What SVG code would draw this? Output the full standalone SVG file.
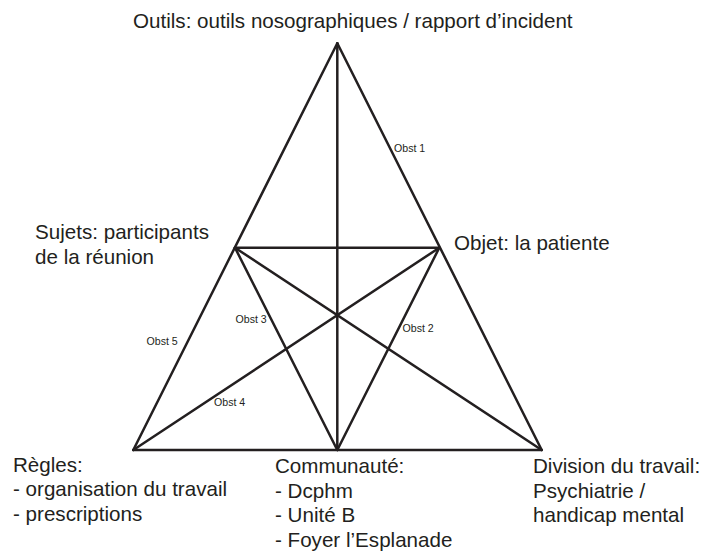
<svg xmlns="http://www.w3.org/2000/svg" width="704" height="557" viewBox="0 0 704 557">
<style>
.bg{fill:#ffffff}
.ln{stroke:#231f20;stroke-width:2.5;fill:none;stroke-linecap:round;stroke-linejoin:miter}
.lbl{font-family:"Liberation Sans",Arial,sans-serif;font-size:20.6px;fill:#231f20}
.obst{font-family:"Liberation Sans",Arial,sans-serif;font-size:10.6px;fill:#231f20}
</style>
<rect class="bg" x="0" y="0" width="704" height="557"/>
<g id="connectors">
<line class="ln" x1="337.3" y1="43.3" x2="133.3" y2="450"/>
<line class="ln" x1="337.3" y1="43.3" x2="541.7" y2="450"/>
<line class="ln" x1="133.3" y1="450" x2="541.7" y2="450"/>
<line class="ln" x1="337.3" y1="43.3" x2="337.3" y2="450"/>
<line class="ln" x1="235" y1="247.7" x2="439.3" y2="247.7"/>
<line class="ln" x1="235" y1="247.7" x2="541.7" y2="450"/>
<line class="ln" x1="439.3" y1="247.7" x2="133.3" y2="450"/>
<line class="ln" x1="235" y1="247.7" x2="337.3" y2="450"/>
<line class="ln" x1="439.3" y1="247.7" x2="337.3" y2="450"/>
</g>
<g id="obstacles">
<text class="obst" x="394" y="152">Obst 1</text>
<text class="obst" x="402.5" y="331.5">Obst 2</text>
<text class="obst" x="235.5" y="323">Obst 3</text>
<text class="obst" x="214" y="406">Obst 4</text>
<text class="obst" x="146.5" y="345">Obst 5</text>
</g>
<g id="outils">
<text class="lbl" x="133" y="28">Outils: outils nosographiques / rapport d’incident</text>
</g>
<g id="sujets">
<text class="lbl" x="35" y="239">Sujets: participants</text>
<text class="lbl" x="35" y="263.5">de la réunion</text>
</g>
<g id="objet">
<text class="lbl" x="454" y="250">Objet: la patiente</text>
</g>
<g id="regles">
<text class="lbl" x="13" y="471.5">Règles:</text>
<text class="lbl" x="13" y="496">- organisation du travail</text>
<text class="lbl" x="13" y="520.5">- prescriptions</text>
</g>
<g id="communaute">
<text class="lbl" x="275" y="473">Communauté:</text>
<text class="lbl" x="275" y="497.5">- Dcphm</text>
<text class="lbl" x="275" y="522">- Unité B</text>
<text class="lbl" x="275" y="546.5">- Foyer l’Esplanade</text>
</g>
<g id="division">
<text class="lbl" x="533" y="473">Division du travail:</text>
<text class="lbl" x="533" y="497.5">Psychiatrie /</text>
<text class="lbl" x="533" y="522">handicap mental</text>
</g>
</svg>
